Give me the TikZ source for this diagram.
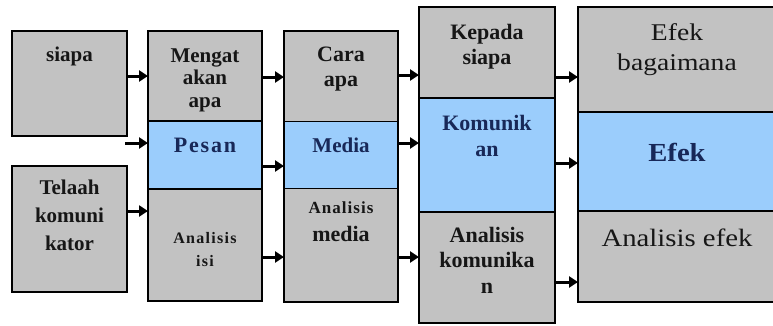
\documentclass[tikz,border=0pt]{standalone}
\usepackage{fontspec}
\setmainfont{Liberation Serif}
\newfontfamily\regwide[FakeStretch=1.15]{Liberation Serif}
\newfontfamily\boldwide[FakeStretch=1.1]{Liberation Serif Bold}
\usetikzlibrary{arrows.meta,fit}
\definecolor{boxgray}{RGB}{194,194,194}
\definecolor{boxblue}{RGB}{155,205,252}
\definecolor{inkdark}{RGB}{22,22,22}
\definecolor{inknavy}{RGB}{24,40,88}
\newcommand{\blk}[3]{\parbox[t]{200pt}{\centering\fontsize{#1}{#2}\selectfont #3}}
\tikzset{
  sec/.style={draw=black, line width=1.4pt, inner sep=0pt, outer sep=0pt},
  graysec/.style={sec, fill=boxgray},
  bluesec/.style={sec, fill=boxblue},
  lbl/.style={anchor=base, inner sep=0pt, outer sep=0pt, text=inkdark, font=\bfseries},
  lblblue/.style={lbl, text=inknavy},
  arr/.style={line width=3pt, -{Triangle[length=9pt,width=11pt]}, black}
}
\begin{document}
\begin{tikzpicture}[x=1pt,y=-1pt]
\useasboundingbox[fill=white] (0,0) rectangle (773,325);
\clip (0,0) rectangle (773,325);
% column 1
\node[graysec, fit={(12,31) (127,136)}] (A) {};
\node[graysec, fit={(12,166) (127,292)}] (B) {};
% column 2
\node[graysec, fit={(148,31) (262,121)}] (m1) {};
\node[bluesec, fit={(148,121) (262,189)}] (m2) {};
\node[graysec, fit={(148,189) (262,301)}] (m3) {};
% column 3
\node[graysec, fit={(284,31) (398,121.5)}] (c1) {};
\node[bluesec, fit={(284,121.5) (398,188.5)}] (c2) {};
\node[graysec, fit={(284,188.5) (398,302)}] (c3) {};
% column 4
\node[graysec, fit={(419,7) (555,98)}] (k1) {};
\node[bluesec, fit={(419,98) (555,212)}] (k2) {};
\node[graysec, fit={(419,212) (555,323)}] (k3) {};
% column 5
\node[graysec, fit={(578,7) (778,112)}] (e1) {};
\node[bluesec, fit={(578,112) (778,211)}] (e2) {};
\node[graysec, fit={(578,211) (778,302)}] (e3) {};
% texts
\node[lbl] (tA) at (69.5,61) {\blk{21}{25}{siapa}};
\node[lbl] (tB) at (69.5,194) {\blk{21}{28}{Telaah\\komuni\\kator}};
\node[lbl] (tm1) at (205,62) {\blk{21}{22.5}{Mengat\\akan\\apa}};
\node[lblblue] (tm2) at (205,152) {\blk{22}{25}{\addfontfeatures{LetterSpace=8}Pesan}};
\node[lbl] (tm3) at (205,243) {\blk{16}{23}{\addfontfeatures{LetterSpace=8}Analisis\\isi}};
\node[lbl] (tc1) at (341,61) {\blk{22}{25}{Cara\\apa}};
\node[lblblue] (tc2) at (341,152) {\blk{21}{25}{Media}};
\node[lbl] (tc3) at (341,213) {\blk{22}{28}{{\fontsize{17}{20}\selectfont\addfontfeatures{LetterSpace=6}Analisis}\\media}};
\node[lbl] (tk1) at (487,39) {\blk{22}{25.5}{Kepada\\siapa}};
\node[lblblue] (tk2) at (487,130) {\blk{22}{26}{Komunik\\an}};
\node[lbl] (tk3) at (487,242) {\blk{22}{25.5}{Analisis\\komunika\\n}};
\node[lbl, font=\regwide] (te1) at (677,40) {\blk{24}{30}{Efek\\bagaimana}};
\node[lblblue, font=\boldwide] (te2) at (677,161) {\blk{26}{30}{Efek}};
\node[lbl, font=\regwide] (te3) at (677,246) {\blk{25}{30}{Analisis efek}};
% connectors
\coordinate (free) at (125,143);
\draw[arr] (A.east |- 0,76) -- (m1.west |- 0,76);
\draw[arr] (free) -- (m2.west |- free);
\draw[arr] (B.east |- 0,211) -- (m3.west |- 0,211);
\draw[arr] (m1.east |- 0,77) -- (c1.west |- 0,77);
\draw[arr] (m2.east |- 0,166) -- (c2.west |- 0,166);
\draw[arr] (m3.east |- 0,257) -- (c3.west |- 0,257);
\draw[arr] (c1.east |- 0,75) -- (k1.west |- 0,75);
\draw[arr] (c2.east |- 0,143) -- (k2.west |- 0,143);
\draw[arr] (c3.east |- 0,257) -- (k3.west |- 0,257);
\draw[arr] (k1.east |- 0,77) -- (e1.west |- 0,77);
\draw[arr] (k2.east |- 0,163) -- (e2.west |- 0,163);
\draw[arr] (k3.east |- 0,282) -- (e3.west |- 0,282);
\end{tikzpicture}
\end{document}
